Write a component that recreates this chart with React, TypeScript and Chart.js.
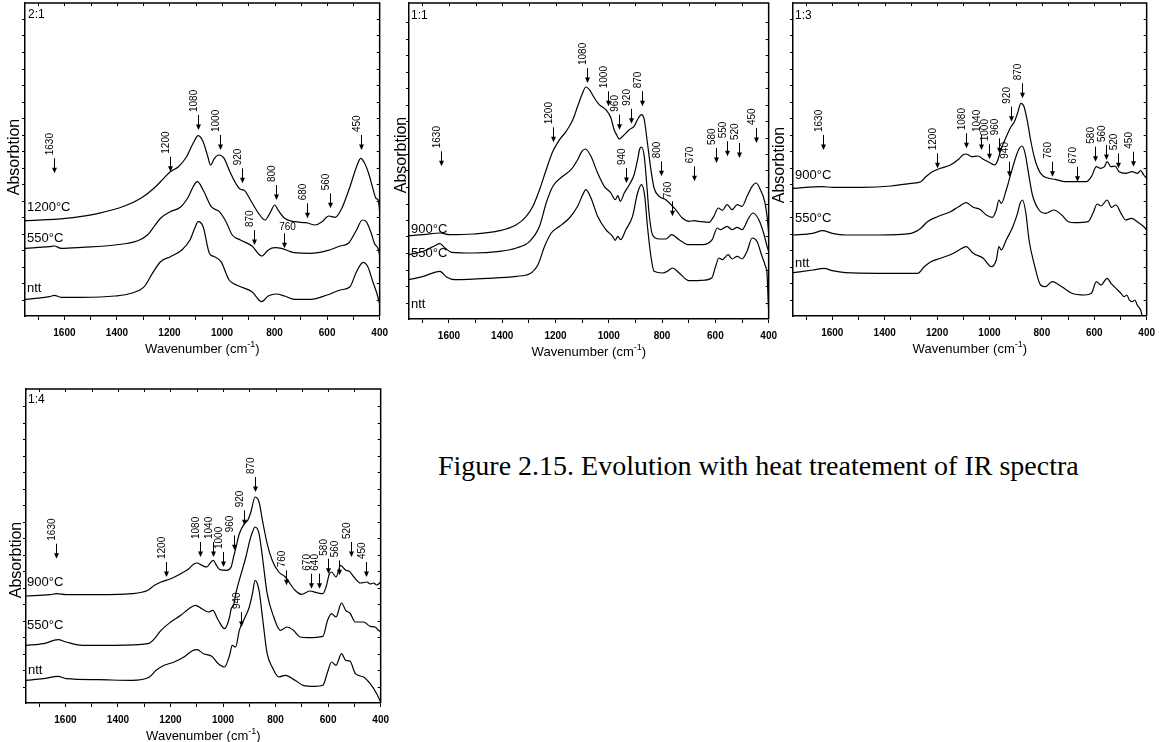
import React, { useEffect, useRef } from 'react';
import { Chart, registerables } from 'chart.js';

Chart.register(...registerables);

type Pt = [number, number];
type Arrow = [number, number, string];

const SANS = "'Liberation Sans', Arial, Helvetica, sans-serif";
const SERIF = "'Liberation Serif', 'Times New Roman', Times, serif";

const X_MIN = 400;
const X_MAX = 1750;
const SERIES_LABELS_A = ['1200°C', '550°C', 'ntt'];
const SERIES_LABELS_B = ['900°C', '550°C', 'ntt'];

// ---------- Panel 2:1 ----------
const P1_1200C: Pt[] = [
  [1750, 95.3], [1595, 97.7], [1470, 102.7], [1371, 110], [1309, 117.7], [1259, 127.7], [1222, 137.7],
  [1197, 144.3], [1166, 149.3], [1135, 159.3], [1110, 172.7], [1091, 180.3], [1072, 174.3], [1054, 159.3],
  [1044, 151], [1029, 157.7], [1013, 161], [992, 157.7], [973, 146], [948, 132.7], [930, 126.7], [917, 126],
  [892, 116], [861, 102.7], [836, 96], [818, 102.7], [799, 111], [787, 106], [762, 97.7], [724, 94.3],
  [681, 93.3], [644, 91], [619, 94.3], [594, 100], [569, 98.7], [544, 107.7], [513, 129.3], [488, 149.3],
  [472, 157.7], [457, 152.7], [438, 139.3], [426, 127.7], [414, 117.7], [406, 116], [402, 110], [400, 104],
];
const P1_550C: Pt[] = [
  [1750, 67.7], [1657, 69.3], [1638, 70], [1613, 67.7], [1532, 68.7], [1408, 71], [1321, 75.3], [1284, 81],
  [1259, 89.3], [1234, 97.7], [1197, 104.3], [1159, 108.7], [1128, 119.3], [1110, 129.3], [1094, 134.3],
  [1072, 126], [1041, 109.3], [1010, 104.3], [985, 94.3], [961, 81], [930, 76], [886, 70], [849, 60],
  [824, 66], [799, 68.3], [774, 67.7], [749, 65.3], [724, 63.3], [662, 62.7], [600, 65.3], [550, 70],
  [519, 72.7], [488, 86], [466, 96], [451, 94.3], [432, 82.7], [420, 72.7], [404, 66], [400, 60],
];
const P1_NTT: Pt[] = [
  [1750, 16.7], [1657, 19.3], [1638, 20.7], [1613, 18.7], [1532, 18.7], [1408, 20], [1346, 22.7], [1296, 29.3],
  [1265, 42.7], [1234, 54.3], [1197, 59.3], [1153, 66], [1122, 76], [1104, 87.7], [1091, 94.3], [1072, 89.3],
  [1048, 62.7], [1029, 59.3], [1004, 54.3], [973, 36], [936, 30], [886, 24.3], [849, 14.3], [824, 20],
  [793, 22], [762, 20], [724, 16.7], [662, 16.7], [600, 21], [550, 26], [513, 29.3], [488, 44.3],
  [463, 53.7], [445, 49.3], [426, 34.3], [410, 22], [400, 12],
];
const P1_ARROWS: Arrow[] = [
  [1638, 142.7, '1630'], [1197, 144.3, '1200'], [1091, 186, '1080'], [1008, 166, '1000'], [923, 132.7, '920'],
  [795, 116, '800'], [677, 97.7, '680'], [590, 107.7, '560'], [470, 166, '450'], [877, 71, '870'], [764, 67.7, '760'],
];

// ---------- Panel 1:1 ----------
const P2_900C: Pt[] = [
  [1750, 83.3], [1696, 84.3], [1634, 86], [1597, 84.3], [1509, 85], [1410, 88.3], [1347, 94.3], [1310, 102.7],
  [1285, 112.7], [1260, 129.3], [1235, 149.3], [1210, 167.7], [1185, 179.3], [1160, 187.7], [1135, 199.3],
  [1117, 212.7], [1101, 224.3], [1086, 232], [1073, 229.3], [1054, 221], [1036, 214.3], [1011, 209.3],
  [992, 201], [980, 189.3], [971, 184.3], [961, 180], [948, 182.7], [923, 189.3], [905, 192.7], [889, 201],
  [877, 204.3], [867, 199.3], [855, 176], [842, 149.3], [830, 131], [811, 122.7], [786, 119.3], [749, 109.3],
  [724, 101], [699, 97.7], [680, 98.3], [662, 97.7], [624, 96.7], [606, 102.7], [589, 111], [574, 108.7],
  [556, 114.3], [537, 109.3], [518, 114.3], [500, 112.7], [481, 122.7], [462, 132.7], [447, 136], [431, 129.3],
  [415, 117.7], [406, 102.7], [400, 86],
];
const P2_550C: Pt[] = [
  [1750, 64.3], [1696, 67.7], [1653, 73.3], [1634, 75.3], [1615, 71], [1590, 66.7], [1509, 66], [1410, 67.7],
  [1347, 71], [1297, 77.7], [1260, 92.7], [1235, 116], [1210, 132.7], [1173, 142.7], [1142, 149.3], [1117, 159.3],
  [1101, 167.7], [1088, 170], [1067, 162.7], [1042, 146], [1017, 132.7], [992, 126], [976, 119.3], [966, 123.3],
  [957, 117.7], [942, 126], [923, 134.3], [905, 144.3], [892, 159.3], [884, 170], [877, 172], [867, 162.7],
  [857, 132.7], [849, 106], [836, 84.3], [811, 80], [786, 80], [764, 84.3], [736, 79.3], [699, 74.3],
  [649, 74.3], [612, 79.3], [593, 91], [581, 89.3], [556, 92.7], [537, 89.3], [518, 91.7], [500, 89.3],
  [475, 101], [459, 106], [437, 99.3], [419, 86], [406, 72.7], [400, 67.7],
];
const P2_NTT: Pt[] = [
  [1750, 39.3], [1696, 42.7], [1653, 46.7], [1634, 47.7], [1609, 42], [1578, 39.3], [1447, 40.7], [1347, 42.7],
  [1297, 45.3], [1266, 54.3], [1241, 72.7], [1216, 86], [1185, 92.7], [1148, 101], [1117, 112.7], [1098, 124.3],
  [1086, 129.3], [1067, 121], [1042, 102.7], [1011, 89.3], [986, 82.7], [976, 78.7], [966, 82.7], [956, 79.3],
  [936, 89.3], [911, 102.7], [892, 126], [877, 134.3], [865, 122.7], [855, 92.7], [842, 62.7], [830, 47.7],
  [799, 46], [780, 47.7], [761, 51], [736, 46], [699, 38.3], [649, 38.7], [614, 41], [599, 52.7], [587, 61],
  [574, 59.3], [552, 64.3], [537, 60], [518, 62.7], [500, 60], [481, 67.7], [462, 81], [444, 77.7], [425, 62.7],
  [412, 52.7], [406, 45], [402, 19.3], [400, 8],
];
const P2_ARROWS: Arrow[] = [
  [1631, 152.7, '1630'], [1210, 176.7, '1200'], [1083, 236, '1080'], [1004, 212.7, '1000'], [963, 189.3, '960'],
  [917, 195.3, '920'], [874, 212.7, '870'], [936, 136, '940'], [805, 142.7, '800'], [680, 137.7, '670'],
  [599, 156, '580'], [556, 162.7, '550'], [512, 161, '520'], [446, 176, '450'], [764, 102.7, '760'],
];

// ---------- Panel 1:3 ----------
const P3_900C: Pt[] = [
  [1750, 127.7], [1637, 129.3], [1600, 128.7], [1487, 128.7], [1375, 130], [1299, 132.7], [1262, 134.3],
  [1243, 139.3], [1218, 144.3], [1187, 147.7], [1149, 151], [1118, 156.7], [1102, 161], [1089, 162],
  [1068, 159.3], [1043, 160], [1024, 156.7], [999, 153.3], [980, 151], [968, 156], [959, 164.3], [936, 179.3],
  [918, 189.3], [905, 194.3], [893, 202.7], [880, 212.7], [868, 209.3], [855, 194.3], [843, 176], [826, 156],
  [805, 142.7], [774, 137.7], [749, 136.7], [711, 134.3], [674, 134.3], [630, 134.3], [611, 139.3], [592, 149.3],
  [576, 147.7], [561, 149.3], [551, 154.3], [536, 149.3], [521, 150], [505, 144.3], [480, 142.7], [455, 144.3],
  [436, 142.7], [423, 145.3], [411, 141], [400, 137.7],
];
const P3_550C: Pt[] = [
  [1750, 81], [1675, 82.7], [1637, 85.3], [1600, 82.7], [1550, 81], [1425, 81], [1299, 82.7], [1262, 87.7],
  [1237, 94.3], [1199, 99.3], [1149, 104.3], [1118, 109.3], [1089, 113.3], [1062, 108.7], [1037, 106.7],
  [1012, 101], [989, 98.7], [974, 106], [964, 116], [955, 112.7], [936, 126], [918, 142.7], [899, 159.3],
  [886, 167.7], [876, 170], [864, 162.7], [851, 142.7], [836, 121], [811, 106], [786, 102.7], [755, 106],
  [724, 101], [699, 94.3], [674, 93.3], [624, 94.3], [605, 102.7], [589, 112], [574, 110], [551, 116],
  [534, 108.7], [517, 111], [498, 102.7], [480, 96], [458, 97.7], [436, 94.3], [411, 89.3], [400, 86],
];
const P3_NTT: Pt[] = [
  [1750, 43.3], [1675, 46], [1631, 47.7], [1600, 45.3], [1550, 43.3], [1425, 42.7], [1274, 42.7], [1249, 49.3],
  [1224, 54.3], [1187, 57.7], [1137, 62.7], [1105, 67.7], [1089, 69.3], [1062, 62.7], [1024, 57.7], [993, 49.3],
  [974, 56], [964, 69.3], [955, 66], [936, 76], [911, 89.3], [893, 102.7], [883, 112.7], [874, 116],
  [861, 102.7], [849, 76], [830, 52.7], [805, 31], [786, 29.3], [761, 34.3], [724, 29.3], [686, 22.7],
  [636, 21], [611, 22.7], [592, 34.3], [574, 31], [551, 37.7], [536, 32.7], [511, 26], [498, 22.7],
  [486, 19.3], [476, 21], [466, 16], [455, 14.3], [445, 16], [436, 11], [423, 6], [417, 0],
];
const P3_ARROWS: Arrow[] = [
  [1637, 166, '1630'], [1199, 147.7, '1200'], [1089, 167.7, '1080'], [1034, 166, '1040'], [1002, 156.7, '1000'],
  [962, 162.7, '960'], [916, 194.3, '920'], [876, 217.7, '870'], [924, 139.3, '940'], [761, 139.3, '760'],
  [665, 134.3, '670'], [599, 154.3, '580'], [557, 156, '560'], [511, 147.7, '520'], [452, 149.3, '450'],
];

// ---------- Panel 1:4 ----------
const P4_900C: Pt[] = [
  [1750, 107], [1659, 108.3], [1634, 109.3], [1597, 108.3], [1473, 108.3], [1348, 109.3], [1286, 112.7],
  [1261, 117.7], [1236, 121], [1199, 124.3], [1161, 129.3], [1130, 134.3], [1112, 138.7], [1099, 140],
  [1081, 137.7], [1062, 136], [1049, 140], [1037, 142.7], [1025, 137.7], [1012, 133.3], [987, 132.7],
  [969, 136], [960, 146], [952, 154.3], [938, 169.3], [919, 179.3], [906, 182.7], [894, 191], [878, 206],
  [863, 201], [850, 182.7], [832, 159.3], [813, 142.7], [788, 131], [763, 126], [726, 112.7], [701, 108.7],
  [670, 112], [639, 110], [620, 109.3], [608, 116], [595, 129.3], [587, 131], [570, 126], [552, 137.7],
  [533, 132.7], [521, 132], [502, 126], [477, 120], [452, 121], [440, 119], [427, 120], [415, 118], [400, 121],
];
const P4_550C: Pt[] = [
  [1750, 57.7], [1684, 59.3], [1628, 63.3], [1597, 61], [1535, 57.7], [1410, 57.7], [1286, 59.3], [1261, 64.3],
  [1236, 72.7], [1199, 81], [1161, 87.7], [1130, 94.3], [1105, 97.7], [1081, 94.3], [1056, 91], [1039, 92.7],
  [1018, 82.7], [994, 74.3], [975, 86], [969, 94.3], [960, 97.7], [950, 111], [931, 129.3], [913, 146],
  [898, 162.7], [888, 171], [878, 176], [863, 169.3], [850, 146], [832, 109.3], [807, 86], [782, 72.7],
  [757, 76], [732, 72.7], [707, 66], [676, 65.3], [620, 66.7], [602, 82.7], [587, 89.3], [570, 86], [549, 100],
  [533, 92.7], [517, 90], [496, 81], [465, 81], [440, 76.7], [421, 76], [410, 73], [400, 71],
];
const P4_NTT: Pt[] = [
  [1750, 22.7], [1684, 24.3], [1628, 26.7], [1597, 24.3], [1473, 23.3], [1348, 22.7], [1280, 26], [1255, 32.7],
  [1224, 37.7], [1186, 41], [1149, 46], [1118, 52], [1099, 53.3], [1074, 49.3], [1043, 46.7], [1018, 39.3],
  [994, 36], [975, 47.7], [965, 57.7], [952, 56], [938, 72.7], [919, 84.3], [900, 96], [888, 109.3],
  [878, 122.7], [863, 112.7], [850, 86], [832, 49.3], [813, 36], [788, 26], [763, 27.7], [726, 22.7],
  [695, 17.7], [651, 16.7], [620, 17.7], [602, 31], [587, 41], [570, 37.7], [549, 49.3], [533, 42.7],
  [517, 42], [496, 29.3], [465, 26], [440, 19.3], [415, 9.3], [400, 1],
];
const P4_ARROWS: Arrow[] = [
  [1637, 144.3, '1630'], [1217, 126, '1200'], [1089, 146, '1080'], [1037, 146, '1040'], [1000, 136, '1000'],
  [960, 152.7, '960'], [919, 177.7, '920'], [878, 211, '870'], [931, 76, '940'], [760, 117.7, '760'],
  [666, 114.3, '670'], [633, 114.3, '640'], [602, 129.3, '580'], [558, 127.7, '560'], [514, 146, '520'],
  [455, 126, '450'],
];

interface Box { cx: number; cy: number; cw: number; ch: number; pl: number; pr: number; pt: number; pb: number; }
interface PanelDef {
  tag: string;
  names: string[];
  series: Pt[][];
  arrows: Arrow[];
  flat: string[];
  box: Box;
  tagPos: [number, number];
  namePos: [number, number][];
  yTitle: [number, number];
}

const PANELS: PanelDef[] = [
  {
    tag: '2:1', names: SERIES_LABELS_A, series: [P1_1200C, P1_550C, P1_NTT], arrows: P1_ARROWS, flat: ['760'],
    box: { cx: 0, cy: 0, cw: 395, ch: 360, pl: 25, pr: 386, pt: 3, pb: 316 },
    tagPos: [3, 12], namePos: [[2, 204], [2, 235], [2, 285]], yTitle: [15, 157],
  },
  {
    tag: '1:1', names: SERIES_LABELS_B, series: [P2_900C, P2_550C, P2_NTT], arrows: P2_ARROWS, flat: [],
    box: { cx: 392, cy: 0, cw: 392, ch: 360, pl: 409, pr: 770, pt: 3, pb: 319 },
    tagPos: [2, 13], namePos: [[2, 226], [2, 250], [2, 301]], yTitle: [402, 155],
  },
  {
    tag: '1:3', names: SERIES_LABELS_B, series: [P3_900C, P3_550C, P3_NTT], arrows: P3_ARROWS, flat: [],
    box: { cx: 772, cy: 0, cw: 390, ch: 360, pl: 793, pr: 1153, pt: 3, pb: 316 },
    tagPos: [2, 13], namePos: [[2, 172], [2, 215], [2, 260]], yTitle: [780, 165],
  },
  {
    tag: '1:4', names: SERIES_LABELS_B, series: [P4_900C, P4_550C, P4_NTT], arrows: P4_ARROWS, flat: [],
    box: { cx: 0, cy: 380, cw: 396, ch: 362, pl: 26, pr: 387, pt: 389, pb: 703 },
    tagPos: [2, 11], namePos: [[1, 193], [1, 236], [2, 281]], yTitle: [17, 560],
  },
];

function makeDecor(p: PanelDef) {
  return {
    id: 'decor',
    afterDraw(chart: any) {
      const { ctx, chartArea: a } = chart;
      const xs = chart.scales.x;
      const ys = chart.scales.y;
      const b = p.box;
      ctx.save();
      ctx.strokeStyle = '#000';
      ctx.fillStyle = '#000';
      ctx.lineWidth = 1.5;
      ctx.beginPath();
      ctx.moveTo(a.left, a.top);
      ctx.lineTo(a.right, a.top);
      ctx.lineTo(a.right, a.bottom);
      ctx.stroke();

      ctx.lineWidth = 1;
      ctx.beginPath();
      for (let w = 500; w <= 1700; w += 100) {
        const px = Math.round(xs.getPixelForValue(w)) + 0.5;
        ctx.moveTo(px, a.top);
        ctx.lineTo(px, a.top + 3);
      }
      for (let v = 16.5; v < ys.max - 4; v += 16.5) {
        const py = Math.round(ys.getPixelForValue(v)) + 0.5;
        ctx.moveTo(a.right, py);
        ctx.lineTo(a.right - 3, py);
        ctx.moveTo(a.left, py);
        ctx.lineTo(a.left - 3, py);
      }
      ctx.stroke();

      // arrows with labels
      p.arrows.forEach(([wn, tip, label]) => {
        const x = Math.round(xs.getPixelForValue(wn)) + 0.5;
        const yTip = ys.getPixelForValue(tip);
        const yTop = yTip - 15;
        ctx.beginPath();
        ctx.moveTo(x, yTop);
        ctx.lineTo(x, yTip - 4);
        ctx.stroke();
        ctx.beginPath();
        ctx.moveTo(x - 2.5, yTip - 5.5);
        ctx.lineTo(x + 2.5, yTip - 5.5);
        ctx.lineTo(x, yTip);
        ctx.closePath();
        ctx.fill();
        ctx.font = `10px ${SANS}`;
        if (p.flat.includes(label)) {
          ctx.textAlign = 'center';
          ctx.textBaseline = 'alphabetic';
          ctx.fillText(label, x + 3, yTop - 3);
        } else {
          ctx.save();
          ctx.translate(x - 4, yTop - 3);
          ctx.rotate(-Math.PI / 2);
          ctx.textAlign = 'left';
          ctx.textBaseline = 'middle';
          ctx.fillText(label, 0, 0);
          ctx.restore();
        }
      });

      // tag and series names
      ctx.textAlign = 'left';
      ctx.textBaseline = 'middle';
      ctx.font = `12px ${SANS}`;
      ctx.fillText(p.tag, a.left + p.tagPos[0], a.top + p.tagPos[1]);
      ctx.font = `13px ${SANS}`;
      p.names.forEach((n, i) => {
        ctx.fillText(n, a.left + p.namePos[i][0], a.top + p.namePos[i][1]);
      });

      // y title
      ctx.save();
      ctx.translate(p.yTitle[0] - b.cx, p.yTitle[1] - b.cy);
      ctx.rotate(-Math.PI / 2);
      ctx.textAlign = 'center';
      ctx.textBaseline = 'middle';
      ctx.font = `16px ${SANS}`;
      ctx.fillText('Absorbtion', 0, 0);
      ctx.restore();

      // x title with superscript
      const t1 = 'Wavenumber (cm';
      const sup = '-1';
      const t2 = ')';
      ctx.textBaseline = 'alphabetic';
      ctx.font = `13px ${SANS}`;
      const w1 = ctx.measureText(t1).width;
      const w2 = ctx.measureText(t2).width;
      ctx.font = `9px ${SANS}`;
      const ws = ctx.measureText(sup).width;
      const total = w1 + ws + w2;
      const base = a.bottom + 37;
      let sx = (a.left + a.right) / 2 - total / 2;
      ctx.font = `13px ${SANS}`;
      ctx.fillText(t1, sx, base);
      sx += w1;
      ctx.font = `9px ${SANS}`;
      ctx.fillText(sup, sx, base - 6);
      sx += ws;
      ctx.font = `13px ${SANS}`;
      ctx.fillText(t2, sx, base);
      ctx.restore();
    },
  };
}

function Panel({ p }: { p: PanelDef }) {
  const ref = useRef<HTMLCanvasElement>(null);
  useEffect(() => {
    const b = p.box;
    const chart = new Chart(ref.current as HTMLCanvasElement, {
      type: 'line',
      data: {
        datasets: p.series.map((s, i) => ({
          label: p.names[i],
          data: s.map(([x, y]) => ({ x, y })),
          borderColor: '#000',
          borderWidth: 1.2,
          pointRadius: 0,
          fill: false,
          cubicInterpolationMode: 'monotone' as const,
        })),
      },
      options: {
        responsive: false,
        animation: false,
        events: [],
        layout: { padding: { left: 0, top: b.pt - b.cy, right: b.cx + b.cw - b.pr, bottom: 0 } },
        plugins: { legend: { display: false }, tooltip: { enabled: false } },
        scales: {
          x: {
            type: 'linear',
            min: X_MIN,
            max: X_MAX,
            reverse: true,
            position: 'bottom',
            afterFit: (s: any) => { s.height = b.cy + b.ch - b.pb; },
            ticks: {
              stepSize: 100,
              autoSkip: false,
              maxRotation: 0,
              includeBounds: false,
              padding: 7,
              color: '#000',
              font: { family: SANS, size: 10, weight: 'bold' },
              callback: (v: any) => (Number(v) % 200 === 0 ? String(v) : ''),
            },
            grid: { display: true, drawOnChartArea: false, drawTicks: true, tickLength: 4, color: '#000', lineWidth: 1 },
            border: { display: true, color: '#000', width: 1.5 },
          },
          y: {
            type: 'linear',
            min: 0,
            max: b.pb - b.pt,
            position: 'left',
            afterFit: (s: any) => { s.width = b.pl - b.cx; },
            ticks: { display: false },
            grid: { display: false },
            border: { display: true, color: '#000', width: 1.5 },
          },
        },
      } as any,
      plugins: [makeDecor(p)],
    });
    return () => chart.destroy();
  }, [p]);
  const b = p.box;
  return (
    <canvas
      ref={ref}
      width={b.cw}
      height={b.ch}
      style={{ position: 'absolute', left: b.cx, top: b.cy, width: b.cw, height: b.ch }}
    />
  );
}

export default function App() {
  return (
    <div style={{ position: 'absolute', left: 0, top: 0, width: 1162, height: 742, background: '#fff', overflow: 'hidden' }}>
      {PANELS.map((p) => (
        <Panel key={p.tag} p={p} />
      ))}
      <div
        style={{
          position: 'absolute',
          left: 438,
          top: 449,
          fontFamily: SERIF,
          fontSize: 28,
          lineHeight: '34px',
          whiteSpace: 'nowrap',
          color: '#000',
        }}
      >
        Figure 2.15. Evolution with heat treatement of IR spectra
      </div>
    </div>
  );
}
